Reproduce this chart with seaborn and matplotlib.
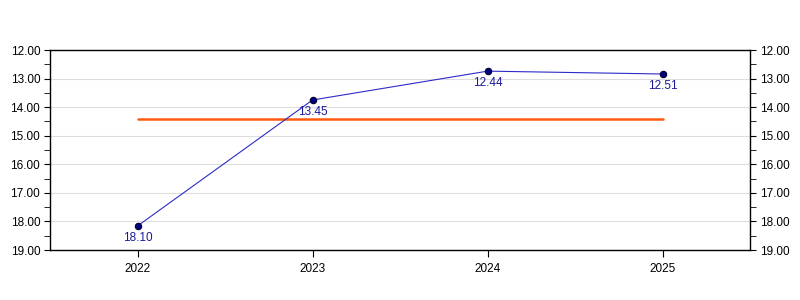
import matplotlib
matplotlib.use("Agg")
import matplotlib.pyplot as plt
import seaborn as sns
import pandas as pd
from matplotlib.ticker import MultipleLocator, FormatStrFormatter

years = [2022, 2023, 2024, 2025]
values = [18.16, 13.75, 12.74, 12.84]
point_labels = ["18.10", "13.45", "12.44", "12.51"]
reference = [14.42, 14.42, 14.42, 14.42]

sns.set_style("white")
plt.rcParams['font.family'] = ['Liberation Sans', 'DejaVu Sans']

df = pd.DataFrame({"year": years, "value": values, "ref": reference})

fig = plt.figure(figsize=(8, 3), dpi=100)
ax = fig.add_axes([50/800, 50/300, 700/800, 200/300])

sns.lineplot(data=df, x="year", y="ref", ax=ax, color="#ff5a0f", linewidth=1.8, zorder=2)
sns.lineplot(data=df, x="year", y="value", ax=ax, color="#2b2bc8", linewidth=0.8,
             marker="o", markersize=4.6, markerfacecolor="#000080",
             markeredgecolor="#000030", markeredgewidth=0.8, zorder=3)

for x, y, t in zip(years, values, point_labels):
    ax.annotate(t, (x, y), xytext=(0, -4), textcoords="offset points",
                ha="center", va="top", fontsize=8.5, color="#1a1a9a")

ax.set_xlim(2021.5, 2025.5)
ax.set_ylim(19, 12)
ax.set_xticks(years)
ax.set_xticklabels([str(y) for y in years])
ax.yaxis.set_major_locator(MultipleLocator(1))
ax.yaxis.set_minor_locator(MultipleLocator(0.5))
ax.yaxis.set_major_formatter(FormatStrFormatter("%.2f"))
ax.grid(axis="y", which="major", color="#dddddd", linewidth=0.8)
ax.set_axisbelow(True)
ax.set_xlabel("")
ax.set_ylabel("")

for s in ax.spines.values():
    s.set_color("black")
    s.set_linewidth(1.0)
    s.set_visible(True)

ax.tick_params(axis="both", which="both", direction="out", color="black",
               labelsize=8.5, labelcolor="#000000")
ax.tick_params(axis="y", which="major", length=4, left=True, right=True,
               labelleft=True, labelright=True, pad=3)
ax.tick_params(axis="y", which="minor", length=4, left=True, right=True)
ax.tick_params(axis="x", which="major", length=5, bottom=True, pad=4)

fig.savefig("out.png", dpi=100)
